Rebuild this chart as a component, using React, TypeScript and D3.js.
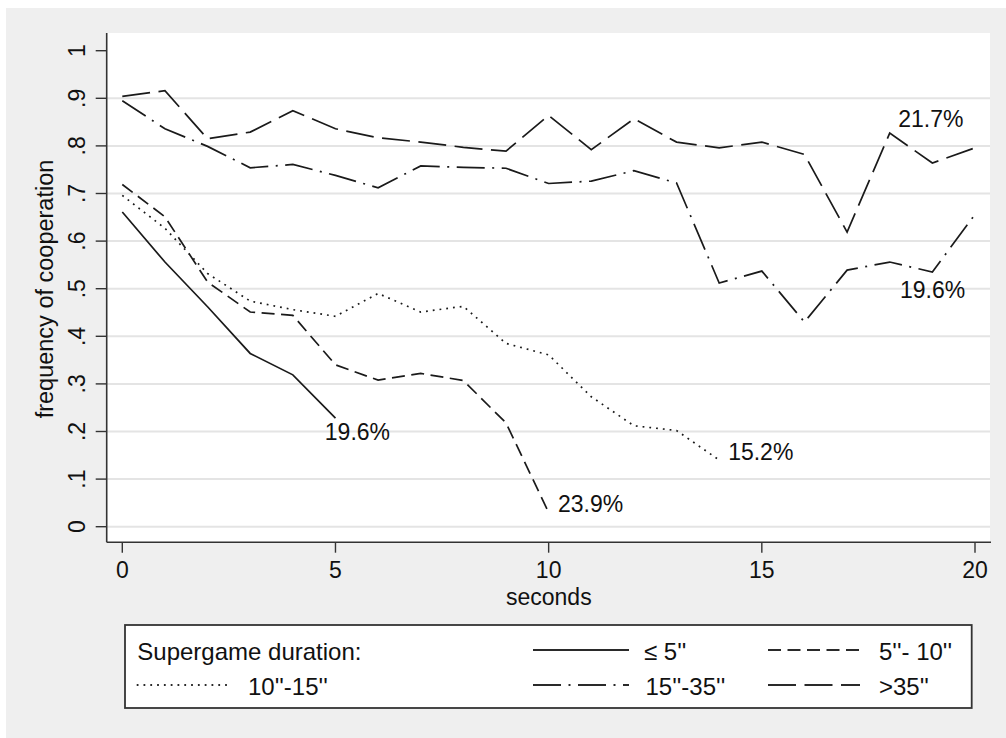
import React from "react";
import * as d3 from "d3";

// ---- data (frequency of cooperation by second, per supergame duration) ----
const secondsTicks = [0, 5, 10, 15, 20];
const coopTicks = [0, 0.1, 0.2, 0.3, 0.4, 0.5, 0.6, 0.7, 0.8, 0.9, 1];
const coopTickLabels = ["0", ".1", ".2", ".3", ".4", ".5", ".6", ".7", ".8", ".9", "1"];

const coopLe5 = [0.661, 0.556, 0.462, 0.364, 0.319, 0.228];
const coop5to10 = [0.719, 0.651, 0.514, 0.451, 0.444, 0.34, 0.308, 0.322, 0.307, 0.218, 0.03];
const coop10to15 = [0.696, 0.627, 0.532, 0.474, 0.456, 0.442, 0.49, 0.451, 0.463, 0.385, 0.361, 0.273, 0.212, 0.202, 0.14];
const coop15to35 = [0.895, 0.836, 0.799, 0.754, 0.761, 0.738, 0.712, 0.758, 0.755, 0.753, 0.721, 0.726, 0.748, 0.722, 0.512, 0.537, 0.43, 0.539, 0.556, 0.535, 0.656];
const coopGt35 = [0.904, 0.916, 0.815, 0.829, 0.874, 0.836, 0.817, 0.808, 0.797, 0.789, 0.864, 0.792, 0.857, 0.808, 0.796, 0.808, 0.782, 0.619, 0.827, 0.764, 0.796];

const seriesNames = ["≤ 5''", "5''- 10''", "10''-15''", "15''-35''", ">35''"];
const seriesValues = [coopLe5, coop5to10, coop10to15, coop15to35, coopGt35];
const seriesDash = ["none", "13,6.5", "1.8,5", "28,7.5,2,7.5", "28,8.5"];

// end-of-line annotations: [text, second, cooperation]
const annotationTexts = ["19.6%", "23.9%", "15.2%", "21.7%", "19.6%"];
const annotationSeconds = [4.75, 10.22, 14.21, 18.2, 18.24];
const annotationCoop = [0.182, 0.0315, 0.14, 0.84, 0.48];

const FONT = "'Liberation Sans', Arial, Helvetica, sans-serif";

export default function App() {
  const W = 1006;
  const H = 738;
  const plotL = 106.7;
  const plotR = 990;
  const plotT = 33;
  const plotB = 542.3;

  const x = d3.scaleLinear().domain([0, 20]).range([122.3, 975]);
  const y = d3.scaleLinear().domain([0, 1]).range([526.7, 50.7]);

  const line = d3
    .line<number>()
    .x((_, i) => x(i))
    .y((d) => y(d));

  const ink = "#1a1a1a";
  const axisColor = "#333";

  // legend layout
  const legend = { l: 125, r: 971.7, t: 625, b: 708 };
  const row1 = 650;
  const row2 = 685;
  const legendItems = [
    { idx: 0, x1: 533, x2: 629, ly: row1, tx: 644 },
    { idx: 1, x1: 768, x2: 860, ly: row1, tx: 879 },
    { idx: 2, x1: 136.7, x2: 228, ly: row2, tx: 248 },
    { idx: 3, x1: 533, x2: 629, ly: row2, tx: 645.5 },
    { idx: 4, x1: 768, x2: 860, ly: row2, tx: 879 },
  ];

  return (
    <svg
      width={W}
      height={H}
      viewBox={`0 0 ${W} ${H}`}
      style={{ position: "absolute", left: 0, top: 0, display: "block" }}
      fontFamily={FONT}
    >
      <rect x={0} y={0} width={W} height={H} fill="#ffffff" />
      <rect x={6} y={8} width={W - 6} height={H - 8} fill="#efefef" />
      <rect x={plotL} y={plotT} width={plotR - plotL} height={plotB - plotT} fill="#ffffff" />

      {/* gridlines */}
      {coopTicks
        .filter((t) => t < 1)
        .map((t) => (
          <line key={"g" + t} x1={plotL} x2={plotR} y1={y(t)} y2={y(t)} stroke="#e4e4e4" strokeWidth={2} />
        ))}

      {/* axes */}
      <line x1={plotL} x2={plotL} y1={plotT} y2={plotB} stroke={axisColor} strokeWidth={1.6} />
      <line x1={plotL} x2={plotR + 1} y1={plotB} y2={plotB} stroke={axisColor} strokeWidth={1.6} />

      {coopTicks.map((t, i) => (
        <g key={"yt" + t}>
          <line x1={95.7} x2={plotL} y1={y(t)} y2={y(t)} stroke={axisColor} strokeWidth={1.4} />
          <text
            transform={`translate(85,${y(t)}) rotate(-90)`}
            textAnchor="middle"
            fontSize={23}
            fill="#111"
          >
            {coopTickLabels[i]}
          </text>
        </g>
      ))}

      {secondsTicks.map((t) => (
        <g key={"xt" + t}>
          <line x1={x(t)} x2={x(t)} y1={plotB} y2={552.7} stroke={axisColor} strokeWidth={1.4} />
          <text x={x(t)} y={577.5} textAnchor="middle" fontSize={23} fill="#111">
            {t}
          </text>
        </g>
      ))}

      <text x={(plotL + plotR) / 2 + 0.5} y={605} textAnchor="middle" fontSize={23} fill="#111">
        seconds
      </text>
      <text transform="translate(53,289) rotate(-90)" textAnchor="middle" fontSize={23.5} fill="#111">
        frequency of cooperation
      </text>

      {/* series */}
      {seriesValues.map((vals, i) => (
        <path
          key={"s" + i}
          d={line(vals) || ""}
          fill="none"
          stroke={ink}
          strokeWidth={1.7}
          strokeDasharray={seriesDash[i]}
          strokeLinejoin="miter"
        />
      ))}

      {annotationTexts.map((t, i) => (
        <text key={"a" + i} x={x(annotationSeconds[i])} y={y(annotationCoop[i])} fontSize={23} fill="#111">
          {t}
        </text>
      ))}

      {/* legend */}
      <rect
        x={legend.l}
        y={legend.t}
        width={legend.r - legend.l}
        height={legend.b - legend.t}
        fill="#ffffff"
        stroke="#333"
        strokeWidth={1.8}
      />
      <text x={137.3} y={660} fontSize={24} fill="#111">
        Supergame duration:
      </text>
      {legendItems.map((it) => (
        <g key={"l" + it.idx}>
          <line
            x1={it.x1}
            x2={it.x2}
            y1={it.ly}
            y2={it.ly}
            stroke="#2a2a2a"
            strokeWidth={2}
            strokeDasharray={seriesDash[it.idx]}
          />
          <text x={it.tx} y={it.ly + 10} fontSize={24} fill="#111">
            {seriesNames[it.idx]}
          </text>
        </g>
      ))}
    </svg>
  );
}
